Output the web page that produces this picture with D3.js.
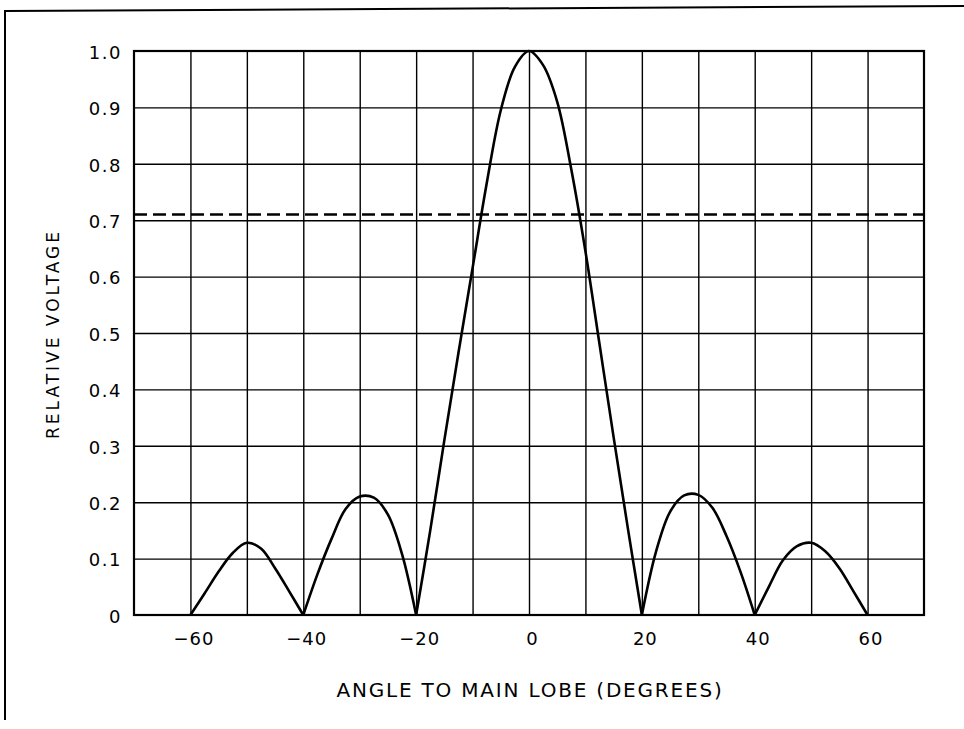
<!DOCTYPE html>
<html>
<head>
<meta charset="utf-8">
<script src="https://cdn.jsdelivr.net/npm/d3@7"></script>
<style>
  body { margin: 0; background: #fff; }
  svg { display: block; }
  text { font-family: "DejaVu Sans", sans-serif; fill: #000; }
</style>
</head>
<body>
<svg></svg>
<script>
// values
var angles = [-60, -57.5, -55, -52.5, -50, -47.5, -45, -42.5, -40,
  -37.5, -35, -32.5, -30, -27.5, -25, -22.5, -20,
  -17.5, -15, -12.5, -10, -7.5, -5, -2.5, 0,
  2.5, 5, 7.5, 10, 12.5, 15, 17.5, 20,
  22.5, 25, 27.5, 30, 32.5, 35, 37.5, 40,
  42.5, 45, 47.5, 50, 52.5, 55, 57.5, 60];
var voltage = [0, 0.038, 0.077, 0.110, 0.128, 0.118, 0.083, 0.042, 0,
  0.072, 0.135, 0.188, 0.210, 0.208, 0.178, 0.108, 0,
  0.150, 0.310, 0.465, 0.615, 0.765, 0.895, 0.972, 1.000,
  0.975, 0.910, 0.790, 0.645, 0.480, 0.315, 0.155, 0,
  0.112, 0.183, 0.212, 0.213, 0.190, 0.140, 0.076, 0,
  0.050, 0.097, 0.122, 0.128, 0.113, 0.083, 0.042, 0];
var halfPower = 0.71;
var xGrid = [-60, -50, -40, -30, -20, -10, 0, 10, 20, 30, 40, 50, 60];
var xLabels = [-60, -40, -20, 0, 20, 40, 60];
var yTicks = [0, 0.1, 0.2, 0.3, 0.4, 0.5, 0.6, 0.7, 0.8, 0.9, 1.0];
var yLabels = ["0", "0.1", "0.2", "0.3", "0.4", "0.5", "0.6", "0.7", "0.8", "0.9", "1.0"];

var W = 964, H = 729;
var pLeft = 134, pRight = 924, pTop = 51, pBottom = 615;

var svg = d3.select("svg").attr("width", W).attr("height", H);

// outer frame (scanned page edge)
svg.append("line").attr("x1", 5).attr("y1", 11).attr("x2", 964).attr("y2", 6)
  .attr("stroke", "#000").attr("stroke-width", 2);
svg.append("line").attr("x1", 5).attr("y1", 10).attr("x2", 5).attr("y2", 720)
  .attr("stroke", "#000").attr("stroke-width", 2);

var x = d3.scaleLinear().domain([-70, 70]).range([pLeft, pRight]);
var y = d3.scaleLinear().domain([0, 1]).range([pBottom, pTop]);

// grid
svg.append("g").attr("transform", "translate(0," + pBottom + ")")
  .call(d3.axisBottom(x).tickValues(xGrid).tickSize(-(pBottom - pTop)).tickFormat(""))
  .call(function(g) { g.select(".domain").remove(); })
  .selectAll("line").attr("stroke", "#000").attr("stroke-width", 1.4);

svg.append("g").attr("transform", "translate(" + pLeft + ",0)")
  .call(d3.axisLeft(y).tickValues(yTicks.slice(1, 10)).tickSize(-(pRight - pLeft)).tickFormat(""))
  .call(function(g) { g.select(".domain").remove(); })
  .selectAll("line").attr("stroke", "#000").attr("stroke-width", 1.4);

// border
svg.append("rect").attr("x", pLeft).attr("y", pTop)
  .attr("width", pRight - pLeft).attr("height", pBottom - pTop)
  .attr("fill", "none").attr("stroke", "#000").attr("stroke-width", 2.2);

// tick labels
var xa = svg.append("g").attr("transform", "translate(3," + pBottom + ")")
  .call(d3.axisBottom(x).tickValues(xLabels).tickSize(0).tickPadding(17));
xa.select(".domain").remove();
xa.selectAll("text").style("font-size", "18px").style("letter-spacing", "1px")
  .attr("font-family", null).attr("fill", "#000");

var ya = svg.append("g").attr("transform", "translate(" + (pLeft - 12) + ",0)")
  .call(d3.axisLeft(y).tickValues(yTicks).tickSize(0).tickPadding(0)
    .tickFormat(function(d, i) { return yLabels[i]; }));
ya.select(".domain").remove();
ya.selectAll("text").style("font-size", "18px").style("letter-spacing", "1.5px")
  .attr("dy", "0.4em").attr("font-family", null).attr("fill", "#000");

// half power dashed line
svg.append("line")
  .attr("x1", x(-70)).attr("x2", x(70))
  .attr("y1", y(halfPower)).attr("y2", y(halfPower))
  .attr("stroke", "#000").attr("stroke-width", 2.4)
  .attr("stroke-dasharray", "13,6");

// curve, one lobe at a time so nulls stay sharp
var pts = angles.map(function(a, i) { return [a, voltage[i]]; });
var lobes = [], cur = [];
pts.forEach(function(p, i) {
  cur.push(p);
  if (p[1] === 0 && cur.length > 1) { lobes.push(cur); cur = [p]; }
});
var line = d3.line().x(function(d) { return x(d[0]); }).y(function(d) { return y(d[1]); })
  .curve(d3.curveCatmullRom.alpha(0.5));
svg.selectAll("path.lobe").data(lobes).enter().append("path")
  .attr("class", "lobe")
  .attr("d", line)
  .attr("fill", "none").attr("stroke", "#000").attr("stroke-width", 2.6)
  .attr("stroke-linejoin", "round");

// axis titles
svg.append("text").attr("x", 530).attr("y", 697).attr("text-anchor", "middle")
  .style("font-size", "20px").style("letter-spacing", "1.8px")
  .text("ANGLE TO MAIN LOBE (DEGREES)");

svg.append("text").attr("transform", "translate(59,334) rotate(-90)")
  .attr("text-anchor", "middle")
  .style("font-size", "17px").style("letter-spacing", "3px")
  .text("RELATIVE VOLTAGE");
</script>
</body>
</html>
